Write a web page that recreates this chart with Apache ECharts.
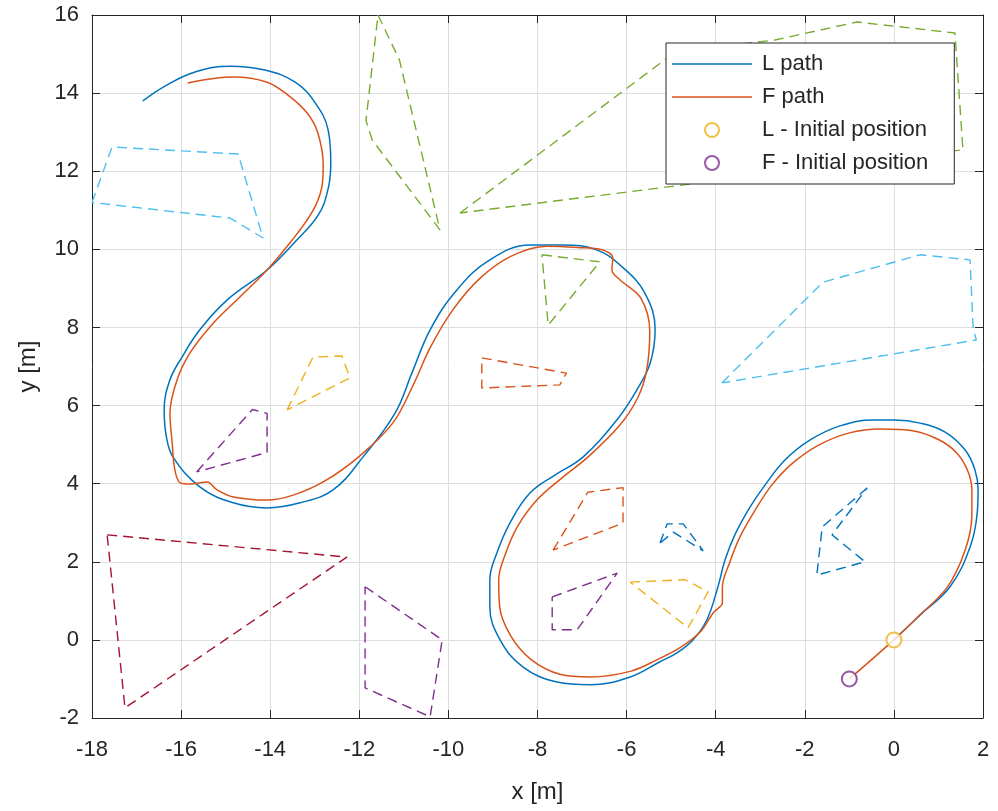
<!DOCTYPE html>
<html>
<head>
<meta charset="utf-8">
<script src="https://cdn.jsdelivr.net/npm/echarts@6/dist/echarts.min.js"></script>
<style>html,body{margin:0;padding:0;background:#fff;}#chart{width:998px;height:811px;}</style>
</head>
<body>
<div id="chart"></div>
<script>
// Axis ticks
var xTicks = [-18, -16, -14, -12, -10, -8, -6, -4, -2, 0, 2];
var yTicks = [-2, 0, 2, 4, 6, 8, 10, 12, 14, 16];

// Leader path
var lPath = [[0,0],[0.59,0.64],[1.26,1.36],[1.71,2.38],[1.87,3.25],[1.89,3.84],[1.82,4.35],[1.60,4.86],[1.15,5.32],[0.59,5.55],[0.02,5.63],[-0.47,5.63],[-1.21,5.48],[-1.88,5.12],[-2.44,4.61],[-2.89,3.97],[-3.23,3.40],[-3.57,2.69],[-3.79,2.05],[-3.95,1.36],[-4.20,0.51],[-4.51,0.0],[-4.87,-0.33],[-5.25,-0.56],[-5.92,-0.95],[-6.82,-1.15],[-7.56,-1.08],[-8.33,-0.69],[-8.84,0.0],[-9.07,0.84],[-9.07,1.54],[-8.91,2.23],[-8.62,2.99],[-8.17,3.76],[-7.61,4.22],[-6.98,4.68],[-6.22,5.63],[-5.77,6.40],[-5.47,7.09],[-5.36,7.94],[-5.59,8.88],[-6.10,9.55],[-6.66,9.98],[-7.43,10.11],[-8.17,10.11],[-9.07,9.73],[-9.81,8.96],[-10.41,7.94],[-10.82,6.83],[-11.2,5.8],[-11.92,4.68],[-12.59,3.84],[-13.33,3.51],[-14.07,3.38],[-14.83,3.51],[-15.58,3.92],[-16.18,4.68],[-16.33,5.2],[-16.38,5.89],[-16.25,6.66],[-15.98,7.24],[-15.58,7.94],[-14.97,8.70],[-14.07,9.47],[-13.45,10.18],[-12.92,10.88],[-12.7,11.55],[-12.64,12.21],[-12.70,13.06],[-12.99,13.75],[-13.44,14.28],[-14.12,14.59],[-14.90,14.69],[-15.69,14.54],[-16.36,14.18],[-16.86,13.80]];

// Follower path
var fPath = [[-1,-1],[0,0],[0.55,0.6],[1.2,1.35],[1.6,2.3],[1.75,3.2],[1.75,3.85],[1.65,4.35],[1.4,4.8],[1.0,5.13],[0.45,5.35],[-0.31,5.40],[-1.0,5.3],[-1.7,4.98],[-2.3,4.5],[-2.75,3.95],[-3.1,3.35],[-3.45,2.65],[-3.68,2.0],[-3.85,1.35],[-3.85,0.95],[-4.05,0.7],[-4.35,0.2],[-4.8,-0.2],[-5.3,-0.5],[-5.9,-0.8],[-6.8,-0.95],[-7.5,-0.88],[-8.15,-0.5],[-8.6,0.1],[-8.85,0.85],[-8.87,1.55],[-8.72,2.2],[-8.45,2.9],[-8.0,3.6],[-7.45,4.15],[-6.85,4.7],[-6.15,5.5],[-5.75,6.2],[-5.55,6.9],[-5.48,7.9],[-5.68,8.75],[-6.15,9.22],[-6.33,9.47],[-6.31,9.78],[-6.55,9.99],[-7.1,10.05],[-7.8,10.08],[-8.6,9.82],[-9.3,9.25],[-9.9,8.45],[-10.4,7.5],[-10.8,6.5],[-11.25,5.55],[-12.0,4.7],[-12.8,4.05],[-13.5,3.7],[-14.07,3.58],[-14.83,3.66],[-15.19,3.84],[-15.42,4.04],[-15.8,3.99],[-16.02,4.02],[-16.14,4.35],[-16.2,5.04],[-16.25,5.81],[-16.09,6.66],[-15.8,7.35],[-15.28,8.11],[-14.68,8.78],[-14.07,9.47],[-13.56,10.16],[-13.06,10.95],[-12.84,11.6],[-12.81,12.15],[-12.93,12.98],[-13.17,13.49],[-13.6,13.95],[-14.07,14.28],[-14.83,14.41],[-15.85,14.26]];

// Initial positions
var lInit = [[0, 0]];
var fInit = [[-1, -1]];

// Obstacles
var obsLightBlue1 = [[-18,11.2],[-17.55,12.62],[-14.72,12.44],[-14.16,10.29],[-14.9,10.8],[-18,11.2]];
var obsGreen1 = [[-11.58,16.0],[-11.1,14.85],[-10.19,10.5],[-11.71,12.8],[-11.85,13.3],[-11.58,16.0]];
var obsGreen2 = [[-9.74,10.93],[-4.91,15.05],[-2.67,15.36],[-0.83,15.82],[1.37,15.54],[1.55,12.55],[-9.74,10.93]];
var obsGreen3 = [[-7.9,9.86],[-6.6,9.68],[-7.76,8.06],[-7.9,9.86]];
var obsOrange1 = [[-9.25,7.22],[-7.35,6.83],[-7.5,6.53],[-9.25,6.45],[-9.25,7.22]];
var obsYellow1 = [[-13.62,5.89],[-13.04,7.24],[-12.39,7.27],[-12.21,6.71],[-13.62,5.89]];
var obsPurple1 = [[-15.65,4.3],[-14.4,5.9],[-14.07,5.8],[-14.07,4.8],[-15.65,4.3]];
var obsDarkRed = [[-17.66,2.69],[-12.28,2.12],[-17.26,-1.74],[-17.66,2.69]];
var obsPurple2 = [[-11.87,1.36],[-10.14,0.0],[-10.41,-1.97],[-11.87,-1.23],[-11.87,1.36]];
var obsOrange2 = [[-7.65,2.3],[-6.87,3.78],[-6.08,3.9],[-6.08,2.99],[-7.65,2.3]];
var obsPurple3 = [[-7.67,1.10],[-6.21,1.71],[-7.11,0.26],[-7.67,0.26],[-7.67,1.10]];
var obsYellow2 = [[-5.92,1.48],[-4.69,1.54],[-4.17,1.23],[-4.62,0.31],[-5.92,1.48]];
var obsBlue1 = [[-5.25,2.48],[-5.09,2.97],[-4.73,2.97],[-4.28,2.28],[-4.95,2.76],[-5.25,2.48]];
var obsBlue2 = [[-0.6,3.89],[-1.61,2.89],[-1.73,1.66],[-0.65,2.0],[-1.39,2.69],[-0.6,3.89]];
var obsLightBlue2 = [[-3.86,6.58],[-1.59,9.16],[0.59,9.86],[1.71,9.73],[1.78,7.95],[1.85,7.68],[-3.86,6.58]];

var obstacles = [
  [obsLightBlue1, '#4DBEEE'],
  [obsDarkRed, '#A2142F'],
  [obsBlue1, '#0072BD'],
  [obsOrange1, '#D95319'],
  [obsYellow1, '#EDB120'],
  [obsPurple1, '#7E2F8E'],
  [obsGreen1, '#77AC30'],
  [obsGreen2, '#77AC30'],
  [obsGreen3, '#77AC30'],
  [obsLightBlue2, '#4DBEEE'],
  [obsPurple2, '#7E2F8E'],
  [obsOrange2, '#D95319'],
  [obsPurple3, '#7E2F8E'],
  [obsYellow2, '#EDB120'],
  [obsBlue2, '#0072BD']
];

var FONT = 'Liberation Sans, Arial, sans-serif';
var TXT = '#262626';

var series = [];
obstacles.forEach(function (o, i) {
  series.push({
    name: 'obs' + i, type: 'line', data: o[0], symbol: 'none', smooth: false,
    lineStyle: { color: o[1], width: 1.4, type: [10, 6] }, z: 2, silent: true
  });
});
series.push({ name: 'L path', type: 'line', data: lPath, symbol: 'none', smooth: 0.4,
  lineStyle: { color: '#0072BD', width: 1.5 }, itemStyle: { color: '#0072BD' }, z: 3 });
series.push({ name: 'F path', type: 'line', data: fPath, symbol: 'none', smooth: 0.35,
  lineStyle: { color: '#D95319', width: 1.5 }, itemStyle: { color: '#D95319' }, z: 3 });
series.push({ name: 'L - Initial position', type: 'scatter', data: lInit, symbol: 'emptyCircle', symbolSize: 15,
  itemStyle: { color: '#EDB120', borderColor: '#EDB120', borderWidth: 1.3 }, z: 4 });
series.push({ name: 'F - Initial position', type: 'scatter', data: fInit, symbol: 'emptyCircle', symbolSize: 15,
  itemStyle: { color: '#7E2F8E', borderColor: '#7E2F8E', borderWidth: 1.3 }, z: 4 });

function mkX(pos, showLabel) {
  return {
    type: 'value', min: xTicks[0], max: xTicks[xTicks.length - 1], interval: 2, position: pos,
    axisLine: { show: true, onZero: false, lineStyle: { color: TXT, width: 1 } },
    axisTick: { show: true, inside: true, length: 8, lineStyle: { color: TXT } },
    axisLabel: { show: showLabel, fontSize: 22, color: TXT, margin: 21, fontFamily: FONT, showMinLabel: true, showMaxLabel: true },
    splitLine: { show: showLabel, lineStyle: { color: '#dedede', width: 1 } },
    name: showLabel ? 'x [m]' : '', nameLocation: 'middle', nameGap: 62,
    nameTextStyle: { fontSize: 24, color: TXT, fontFamily: FONT }
  };
}
function mkY(pos, showLabel) {
  return {
    type: 'value', min: yTicks[0], max: yTicks[yTicks.length - 1], interval: 2, position: pos,
    axisLine: { show: true, onZero: false, lineStyle: { color: TXT, width: 1 } },
    axisTick: { show: true, inside: true, length: 8, lineStyle: { color: TXT } },
    axisLabel: { show: showLabel, fontSize: 22, color: TXT, margin: 13, fontFamily: FONT, showMinLabel: true, showMaxLabel: true },
    splitLine: { show: showLabel, lineStyle: { color: '#dedede', width: 1 } },
    name: showLabel ? 'y [m]' : '', nameLocation: 'middle', nameGap: 52,
    nameTextStyle: { fontSize: 24, color: TXT, fontFamily: FONT }
  };
}

var lineIcon = 'path://M0,0 L80,0 L80,1.6 L0,1.6 Z';

var chart = echarts.init(document.getElementById('chart'), null, { renderer: 'canvas' });
chart.setOption({
  animation: false,
  backgroundColor: '#ffffff',
  textStyle: { fontFamily: FONT },
  grid: { left: 92, top: 15, width: 891, height: 703, containLabel: false },
  xAxis: [mkX('bottom', true), mkX('top', false)],
  yAxis: [mkY('left', true), mkY('right', false)],
  legend: {
    orient: 'vertical', left: 666, top: 43,
    padding: [10, 26, 10, 6], itemGap: 11, itemWidth: 80, itemHeight: 14,
    borderColor: TXT, borderWidth: 1, backgroundColor: '#ffffff', selectedMode: false,
    textStyle: { fontSize: 22, color: TXT, fontFamily: FONT, padding: [0, 0, 0, 5] },
    data: [
      { name: 'L path', icon: lineIcon },
      { name: 'F path', icon: lineIcon },
      { name: 'L - Initial position', icon: 'emptyCircle' },
      { name: 'F - Initial position', icon: 'emptyCircle' }
    ]
  },
  series: series
});
</script>
</body>
</html>
